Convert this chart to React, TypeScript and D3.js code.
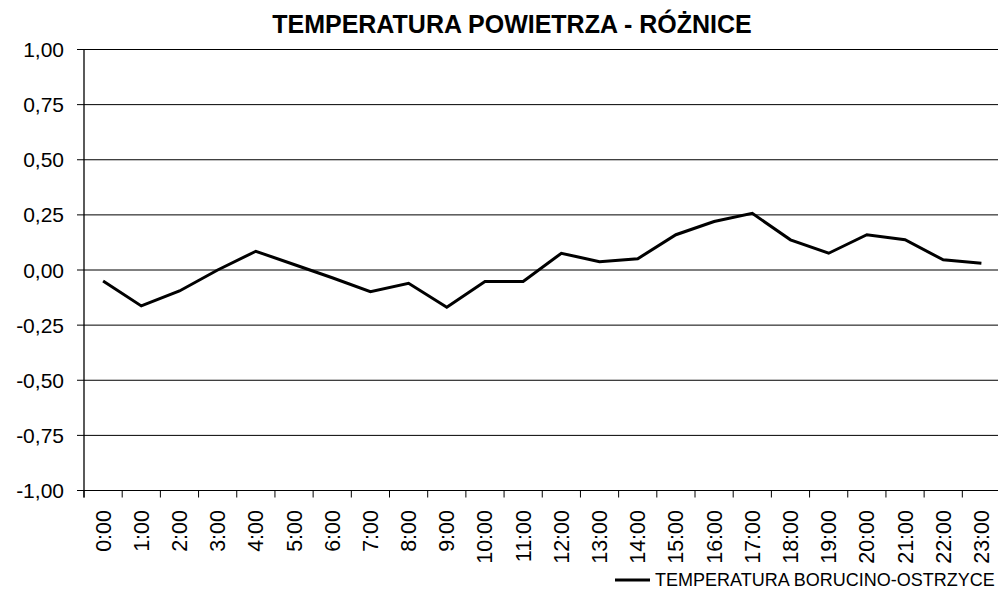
import React, { useEffect, useRef } from "react";
import * as d3 from "d3";

const hours: string[] = [
  "0:00", "1:00", "2:00", "3:00", "4:00", "5:00", "6:00", "7:00", "8:00", "9:00", "10:00", "11:00",
  "12:00", "13:00", "14:00", "15:00", "16:00", "17:00", "18:00", "19:00", "20:00", "21:00", "22:00", "23:00",
];
const diffValues: number[] = [
  -0.05, -0.163, -0.095, 0.0, 0.085, 0.025, -0.035, -0.098, -0.06, -0.169, -0.052, -0.052,
  0.076, 0.038, 0.051, 0.16, 0.22, 0.257, 0.137, 0.076, 0.16, 0.137, 0.046, 0.031,
];
const yTicks: number[] = [1, 0.75, 0.5, 0.25, 0, -0.25, -0.5, -0.75, -1];
const titleText = "TEMPERATURA POWIETRZA - RÓŻNICE";
const seriesName = "TEMPERATURA BORUCINO-OSTRZYCE";

const W = 998;
const H = 600;
const FONT = "'Liberation Sans', Arial, sans-serif";

export default function App() {
  const ref = useRef<SVGSVGElement>(null);

  useEffect(() => {
    const svg = d3.select(ref.current);
    svg.selectAll("*").remove();

    const left = 84;
    const right = 1000.5;
    const top = 49.5;
    const bottom = 490.5;

    const x = d3.scaleBand<string>().domain(hours).range([left, right]).padding(0);
    const y = d3.scaleLinear().domain([-1, 1]).range([bottom, top]);

    svg.append("rect").attr("width", W).attr("height", H).attr("fill", "#fff");

    // title
    svg.append("text")
      .attr("x", 512)
      .attr("y", 33)
      .attr("text-anchor", "middle")
      .attr("font-family", FONT)
      .attr("font-weight", "bold")
      .attr("font-size", 25)
      .attr("fill", "#000")
      .text(titleText);

    // gridlines
    svg.append("g")
      .selectAll("line")
      .data(yTicks)
      .join("line")
      .attr("x1", left - 7)
      .attr("x2", right)
      .attr("y1", (d) => y(d))
      .attr("y2", (d) => y(d))
      .attr("stroke", "#000")
      .attr("stroke-width", 1);

    // y labels
    svg.append("g")
      .selectAll("text")
      .data(yTicks)
      .join("text")
      .attr("x", 64)
      .attr("y", (d) => y(d) + 7.5)
      .attr("text-anchor", "end")
      .attr("font-family", FONT)
      .attr("font-size", 21)
      .attr("fill", "#000")
      .text((d) => d3.format(".2f")(d).replace(".", ",").replace("−", "-"));

    // y axis line
    svg.append("line")
      .attr("x1", left)
      .attr("x2", left)
      .attr("y1", top)
      .attr("y2", bottom + 7)
      .attr("stroke", "#000")
      .attr("stroke-width", 1.3);

    // x ticks
    const tickPos = hours.map((h) => x(h) as number).concat([right]);
    svg.append("g")
      .selectAll("line")
      .data(tickPos)
      .join("line")
      .attr("x1", (d) => d)
      .attr("x2", (d) => d)
      .attr("y1", bottom)
      .attr("y2", bottom + 7)
      .attr("stroke", "#000")
      .attr("stroke-width", 1);

    // x labels
    svg.append("g")
      .selectAll("text")
      .data(hours)
      .join("text")
      .attr("transform", (d) => `translate(${(x(d) as number) + x.bandwidth() / 2 + 7.5},510) rotate(-90)`)
      .attr("text-anchor", "end")
      .attr("font-family", FONT)
      .attr("font-size", 21.5)
      .attr("fill", "#000")
      .text((d) => d);

    // series line
    const line = d3.line<number>()
      .x((_, i) => (x(hours[i]) as number) + x.bandwidth() / 2)
      .y((d) => y(d));
    svg.append("path")
      .datum(diffValues)
      .attr("d", line)
      .attr("fill", "none")
      .attr("stroke", "#000")
      .attr("stroke-width", 3)
      .attr("stroke-linejoin", "miter");

    // legend
    svg.append("line")
      .attr("x1", 615)
      .attr("x2", 650)
      .attr("y1", 580)
      .attr("y2", 580)
      .attr("stroke", "#000")
      .attr("stroke-width", 3);
    svg.append("text")
      .attr("x", 655)
      .attr("y", 585.5)
      .attr("font-family", FONT)
      .attr("font-size", 18)
      .attr("fill", "#000")
      .text(seriesName);
  }, []);

  return (
    <svg
      ref={ref}
      width={W}
      height={H}
      style={{ position: "absolute", left: 0, top: 0, display: "block" }}
    />
  );
}
